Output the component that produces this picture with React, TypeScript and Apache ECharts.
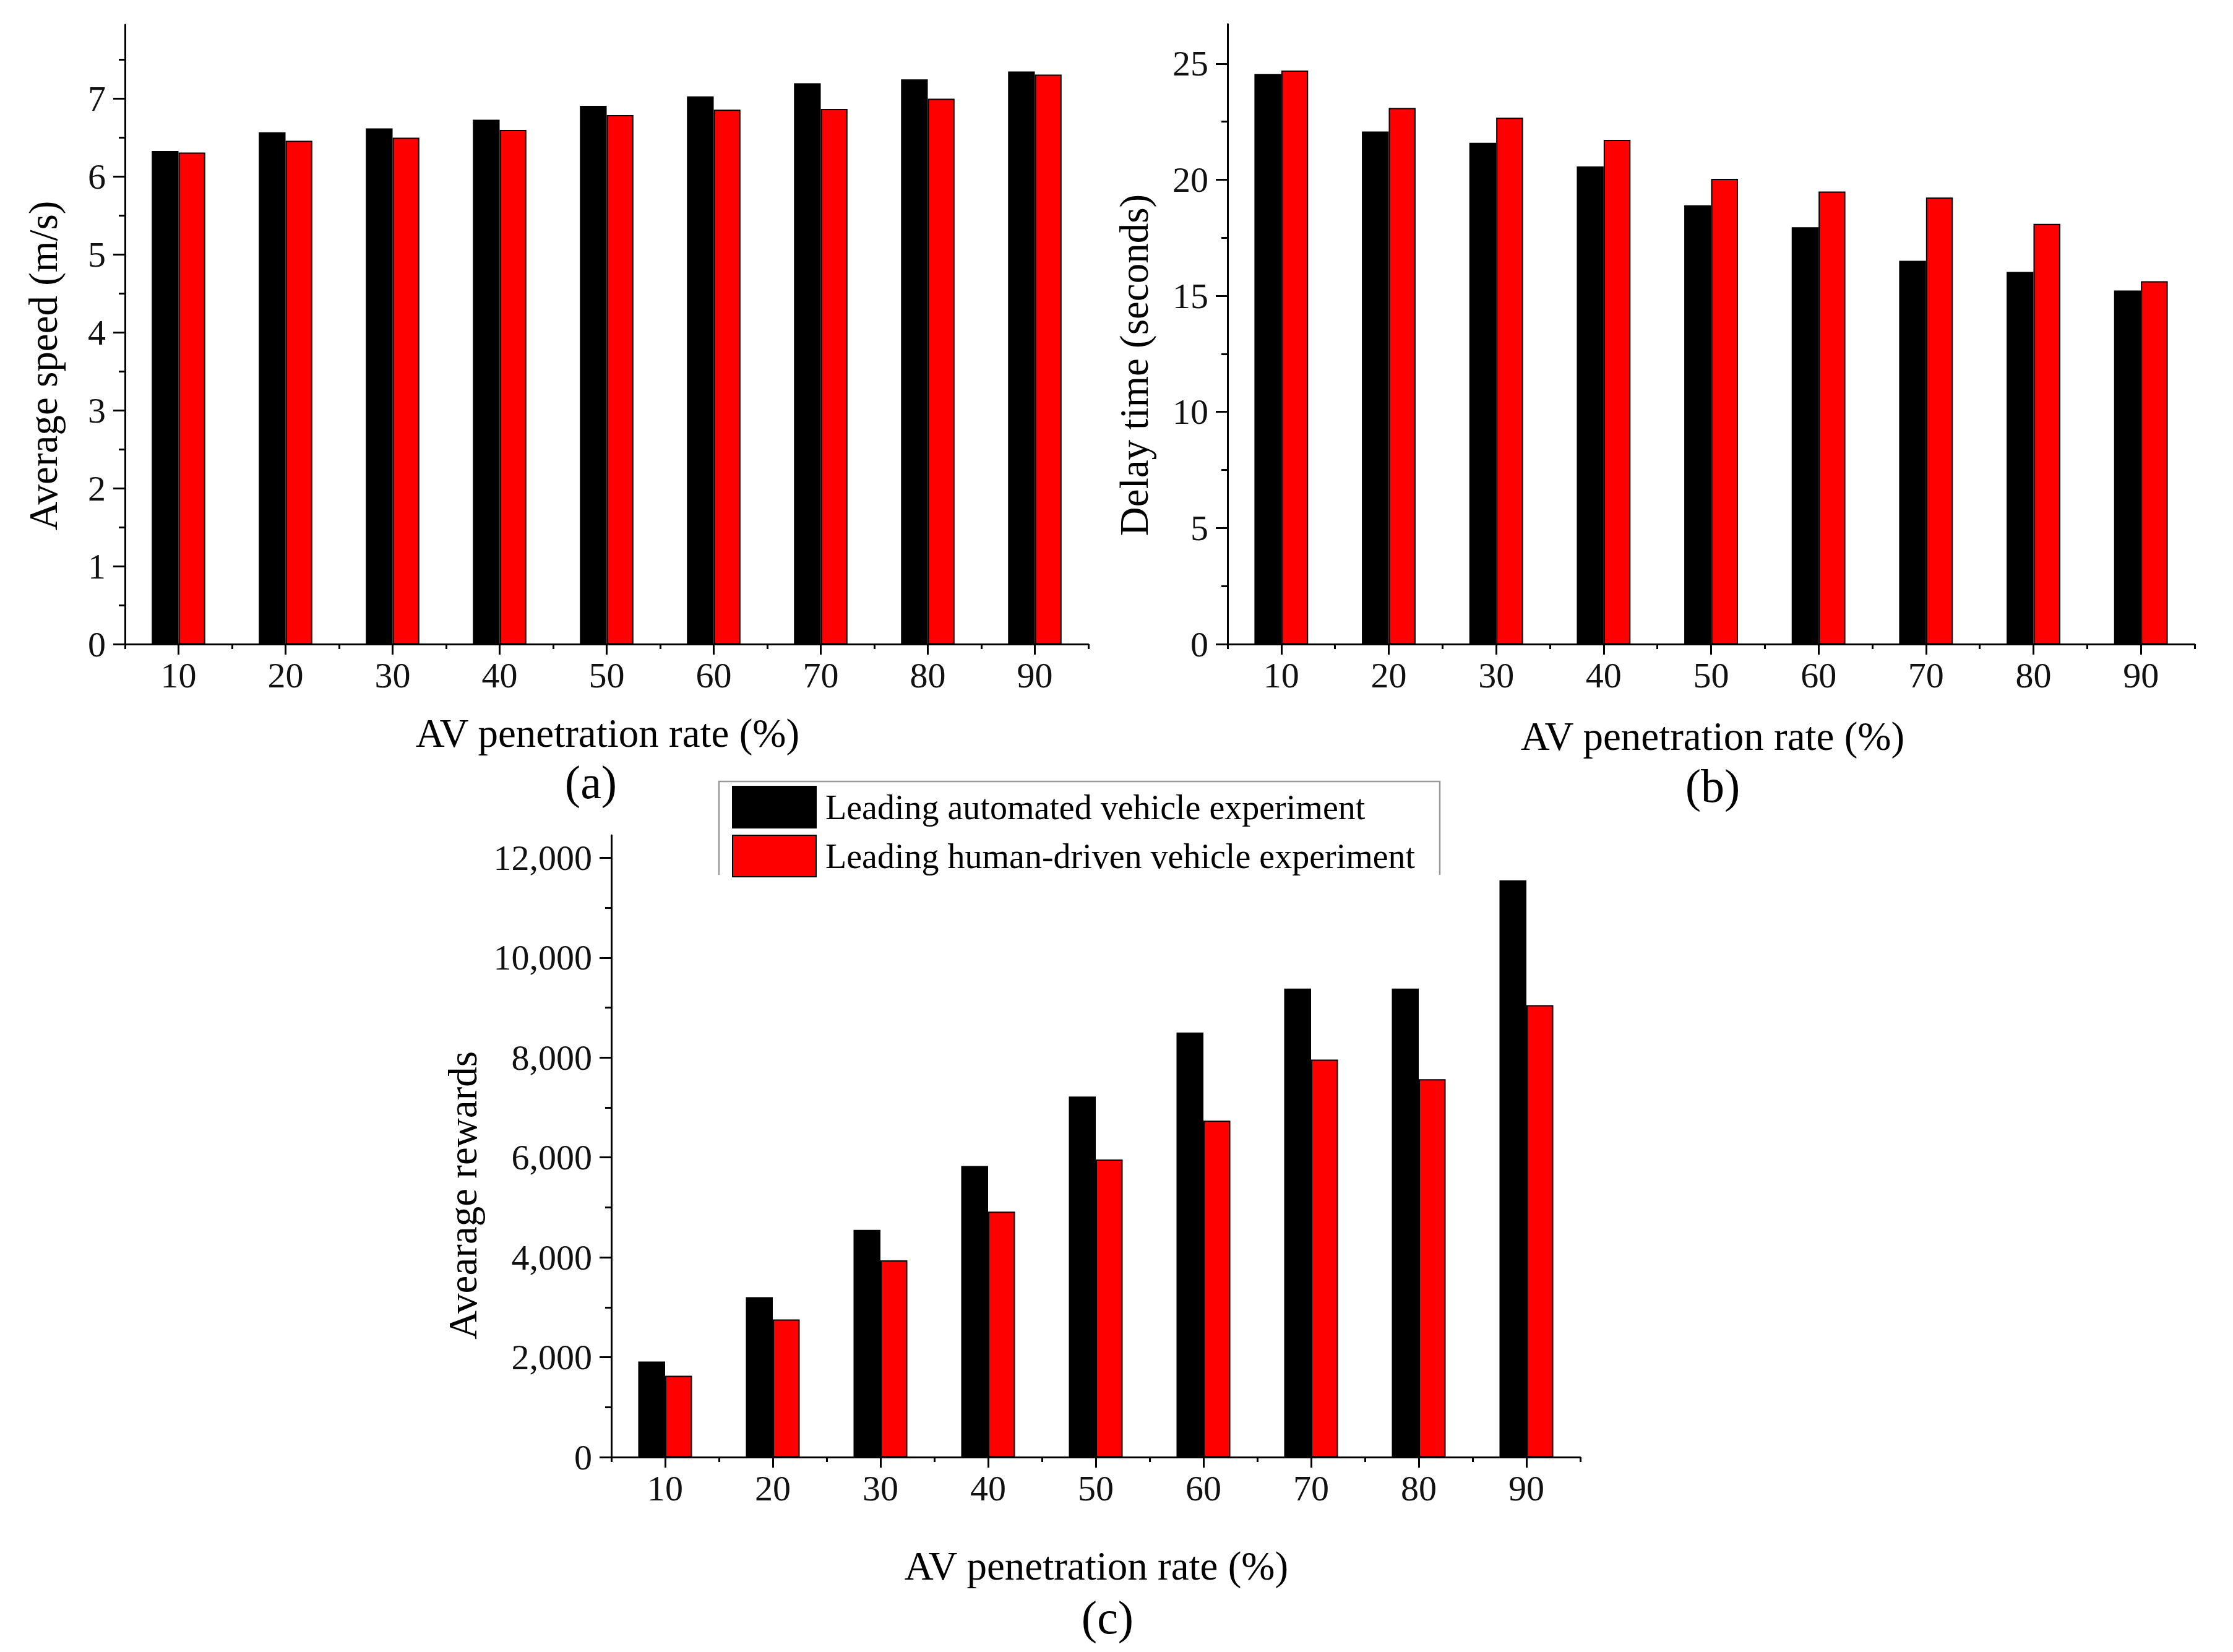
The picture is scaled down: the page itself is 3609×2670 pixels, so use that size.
import React, { useEffect, useRef } from "react";
import * as echarts from "echarts";

const categories = ["10", "20", "30", "40", "50", "60", "70", "80", "90"];

const speedAV = [6.33, 6.57, 6.62, 6.73, 6.91, 7.03, 7.2, 7.25, 7.35];
const speedHV = [6.31, 6.46, 6.5, 6.6, 6.79, 6.86, 6.87, 7.0, 7.31];

const delayAV = [24.55, 22.08, 21.59, 20.57, 18.9, 17.95, 16.51, 16.03, 15.23];
const delayHV = [24.7, 23.09, 22.67, 21.72, 20.04, 19.49, 19.23, 18.1, 15.63];

const rewardAV = [1913, 3202, 4550, 5830, 7220, 8500, 9380, 9380, 11550];
const rewardHV = [1630, 2755, 3940, 4915, 5960, 6735, 7960, 7565, 9050];

const speedTicks = [0, 1, 2, 3, 4, 5, 6, 7];
const speedMinor = [0.5, 1.5, 2.5, 3.5, 4.5, 5.5, 6.5, 7.5];
const delayTicks = [0, 5, 10, 15, 20, 25];
const delayMinor = [2.5, 7.5, 12.5, 17.5, 22.5];
const rewardTicks = [0, 2000, 4000, 6000, 8000, 10000, 12000];
const rewardMinor = [1000, 3000, 5000, 7000, 9000, 11000];

const nameAV = "Leading automated vehicle experiment";
const nameHV = "Leading human-driven vehicle experiment";
const xTitle = "AV penetration rate (%)";

const FONT = "'Liberation Serif', 'Times New Roman', serif";

export default function App() {
  const ref = useRef<HTMLDivElement>(null);

  useEffect(() => {
    if (!ref.current) return;
    const chart = echarts.init(ref.current, undefined, { renderer: "svg" });

    const axisLineStyle = { color: "#000", width: 3 };

    const mainX = (gridIndex: number) => ({
      type: "category",
      gridIndex,
      position: "bottom",
      data: categories,
      boundaryGap: true,
      axisLine: { show: true, onZero: false, lineStyle: axisLineStyle },
      axisTick: {
        show: true,
        alignWithLabel: true,
        inside: false,
        length: 17,
        lineStyle: axisLineStyle,
      },
      axisLabel: {
        show: true,
        margin: 21,
        fontFamily: FONT,
        fontSize: 58,
        color: "#111",
      },
      splitLine: { show: false },
    });

    const minorX = (gridIndex: number) => ({
      type: "category",
      gridIndex,
      position: "bottom",
      data: categories,
      boundaryGap: true,
      axisLine: { show: false },
      axisTick: { show: true, inside: false, length: 8, lineStyle: axisLineStyle },
      axisLabel: { show: false },
      splitLine: { show: false },
    });

    const mainY = (
      gridIndex: number,
      max: number,
      ticks: number[],
      fmt?: (v: number) => string
    ) => ({
      type: "value",
      gridIndex,
      position: "left",
      min: 0,
      max,
      axisLine: { show: true, onZero: false, lineStyle: axisLineStyle },
      axisTick: {
        show: true,
        inside: false,
        length: 19,
        customValues: ticks,
        lineStyle: axisLineStyle,
      },
      axisLabel: {
        show: true,
        margin: 31,
        customValues: ticks,
        fontFamily: FONT,
        fontSize: 58,
        color: "#111",
        formatter: fmt ? (v: number) => fmt(v) : (v: number) => String(v),
      },
      splitLine: { show: false },
    });

    const minorY = (gridIndex: number, max: number, ticks: number[]) => ({
      type: "value",
      gridIndex,
      position: "left",
      min: 0,
      max,
      axisLine: { show: false },
      axisTick: {
        show: true,
        inside: false,
        length: 10,
        customValues: ticks,
        lineStyle: axisLineStyle,
      },
      axisLabel: { show: false },
      splitLine: { show: false },
    });

    const bar = (name: string, data: number[], color: string, axisIdx: number) => ({
      type: "bar",
      name,
      data,
      xAxisIndex: axisIdx,
      yAxisIndex: axisIdx,
      barWidth: "25%",
      barGap: "0%",
      itemStyle: { color, borderColor: "#000", borderWidth: 2 },
    });

    const txt = (
      text: string,
      x: number,
      y: number,
      fontSize: number,
      rotation = 0
    ) => ({
      type: "text",
      x,
      y,
      rotation,
      style: {
        text,
        fontFamily: FONT,
        fontSize,
        fill: "#000",
        align: "center",
        verticalAlign: "middle",
      },
    });

    const fmtThousands = (v: number) => v.toLocaleString("en-US");

    chart.setOption({
      animation: false,
      backgroundColor: "#fff",
      grid: [
        { left: 202, top: 40, width: 1557, height: 1001 },
        { left: 1984, top: 39, width: 1563, height: 1002 },
        { left: 988, top: 1350, width: 1566, height: 1005 },
      ],
      xAxis: [mainX(0), minorX(0), mainX(1), minorX(1), mainX(2), minorX(2)],
      yAxis: [
        mainY(0, 7.95, speedTicks),
        minorY(0, 7.95, speedMinor),
        mainY(1, 26.7, delayTicks),
        minorY(1, 26.7, delayMinor),
        mainY(2, 12450, rewardTicks, fmtThousands),
        minorY(2, 12450, rewardMinor),
      ],
      legend: {
        data: [nameAV, nameHV],
        orient: "vertical",
        left: 1183,
        top: 1270,
        padding: 0,
        itemWidth: 135,
        itemHeight: 67,
        itemGap: 10,
        icon: "rect",
        selectedMode: false,
        textStyle: {
          fontFamily: FONT,
          fontSize: 56,
          color: "#000",
          padding: [0, 0, 0, 10],
        },
      },
      series: [
        bar(nameAV, speedAV, "#000000", 0),
        bar(nameHV, speedHV, "#ff0000", 0),
        bar(nameAV, delayAV, "#000000", 2),
        bar(nameHV, delayHV, "#ff0000", 2),
        bar(nameAV, rewardAV, "#000000", 4),
        bar(nameHV, rewardHV, "#ff0000", 4),
      ],
      graphic: [
        {
          type: "polyline",
          shape: {
            points: [
              [1162, 1414],
              [1162, 1263],
              [2327, 1263],
              [2327, 1414],
            ],
          },
          style: { stroke: "#999", lineWidth: 2.5, fill: null },
          z: 0,
        },
        txt("Average speed (m/s)", 70, 591, 65, Math.PI / 2),
        txt("Delay time (seconds)", 1833, 590, 65, Math.PI / 2),
        txt("Avearage rewards", 748, 1932, 65, Math.PI / 2),
        txt(xTitle, 982, 1185, 65),
        txt(xTitle, 2768, 1190, 65),
        txt(xTitle, 1772, 2531, 65),
        txt("(a)", 955, 1264, 76),
        txt("(b)", 2768, 1270, 76),
        txt("(c)", 1790, 2614, 76),
      ],
    });

    return () => chart.dispose();
  }, []);

  return (
    <div
      ref={ref}
      style={{ position: "absolute", left: 0, top: 0, width: 3609, height: 2670 }}
    />
  );
}
